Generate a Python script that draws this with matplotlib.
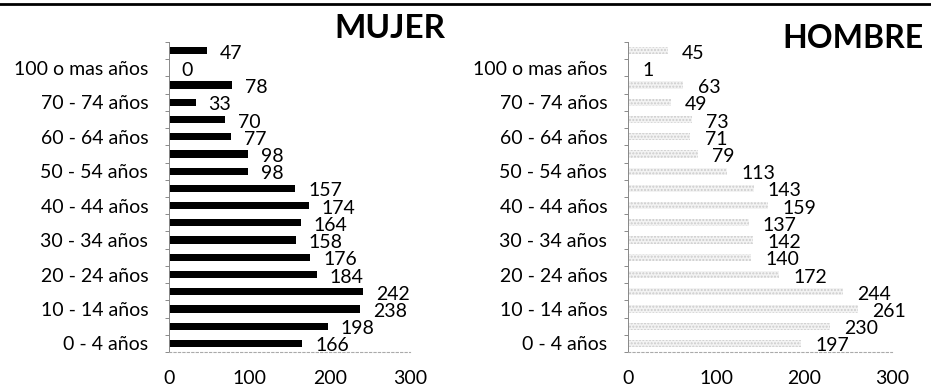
import numpy as np
import matplotlib.pyplot as plt
from matplotlib.lines import Line2D

plt.rcParams['font.family'] = ['Lato', 'DejaVu Sans']

# age groups, bottom to top
grupos = ['0 - 4 años', '5 - 9 años', '10 - 14 años', '15 - 19 años',
          '20 - 24 años', '25 - 29 años', '30 - 34 años', '35 - 39 años',
          '40 - 44 años', '45 - 49 años', '50 - 54 años', '55 - 59 años',
          '60 - 64 años', '65 - 69 años', '70 - 74 años', '75 - 99 años',
          '100 o mas años', 'No especificado']
mujer = [166, 198, 238, 242, 184, 176, 158, 164, 174, 157, 98, 98, 77, 70, 33, 78, 0, 47]
hombre = [197, 230, 261, 244, 172, 140, 142, 137, 159, 143, 113, 79, 71, 73, 49, 63, 1, 45]
xticks = [0, 100, 200, 300]

fig = plt.figure(figsize=(9.31, 3.92), dpi=100)
ax1 = fig.add_axes([169/931, 1 - 352/392, (410 - 169)/931, (352 - 42)/392])
ax2 = fig.add_axes([628/931, 1 - 352/392, (892 - 628)/931, (352 - 42)/392])

y = np.arange(len(grupos))

def estilo(ax, valores, **kw):
    bars = ax.barh(y, valores, height=0.42, **kw)
    ax.set_xlim(0, 300)
    ax.set_ylim(-0.5, len(grupos) - 0.5)
    ax.set_xticks(xticks)
    ax.set_xticklabels([str(t) for t in xticks], fontsize=14)
    ax.tick_params(axis='x', length=0, pad=13)
    # only every other label, like the original
    ax.set_yticks(y[::2])
    ax.set_yticklabels(grupos[::2], fontsize=14)
    ax.tick_params(axis='y', which='major', length=0, pad=15)
    ax.set_yticks(np.arange(-0.5, len(grupos), 1), minor=True)
    ax.tick_params(axis='y', which='minor', length=3, width=0.6, color='#777777')
    for s in ['top', 'right']:
        ax.spines[s].set_visible(False)
    ax.spines['left'].set_color('#888888')
    ax.spines['left'].set_linewidth(0.7)
    ax.spines['bottom'].set_color('#aaaaaa')
    ax.spines['bottom'].set_linewidth(0.8)
    ax.spines['bottom'].set_linestyle((0, (2, 2)))
    for b, v in zip(bars, valores):
        ax.text(v + 16, b.get_y() + b.get_height() / 2 - 0.15, str(v),
                fontsize=14, va='center', ha='left')
    return bars

estilo(ax1, mujer, color='black')
estilo(ax2, hombre, color='#f3f3f3', hatch='.....', edgecolor='#cccccc', linewidth=0)

fig.text(390/931, 1 - 29/392, 'MUJER', fontsize=24, fontweight='bold', ha='center', va='center')
fig.text(853/931, 1 - 39/392, 'HOMBRE', fontsize=23, fontweight='bold', ha='center', va='center')

# line across the top of the scanned page
fig.add_artist(Line2D([0, 1], [1 - 4/392, 1 - 4/392], color='black', linewidth=2,
                      transform=fig.transFigure))

fig.savefig('out.png', dpi=100)
